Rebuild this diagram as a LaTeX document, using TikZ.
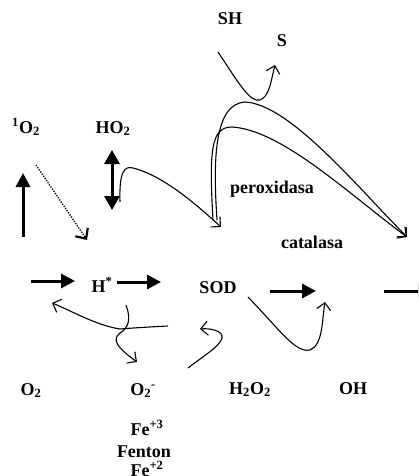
\documentclass[tikz,border=0pt]{standalone}
\usepackage{fontspec}
\setmainfont{Liberation Serif}
\usetikzlibrary{arrows.meta}
\tikzset{
  lbl/.style={font=\bfseries\fontsize{18}{21}\selectfont,inner sep=0pt,anchor=base},
  bigflow/.style={-{Triangle[length=14pt,width=14pt]},line width=3pt},
  twoway/.style={{Triangle[length=14pt,width=15pt]}-{Triangle[length=14pt,width=15pt]},line width=3pt},
  thinflow/.style={-{Straight Barb[length=7pt,width=14pt]},line width=1.1pt},
  dotflow/.style={dash pattern=on 1.3pt off 1.3pt,line width=1.3pt,-{Straight Barb[length=8pt,width=15pt,line width=2.2pt]}},
}

\begin{document}
\begin{tikzpicture}[x=1pt,y=-1pt]
  \useasboundingbox (0,0) rectangle (418,476);
  \clip (0,0) rectangle (418,476);

  % species
  \node[lbl] (sh) at (230,25) {SH};
  \node[lbl] (s) at (282,47) {S};
  \node[lbl] (singlet) at (26,133) {\textsuperscript{1}O\textsubscript{2}};
  \node[lbl] (ho2) at (113,133) {HO\textsubscript{2}};
  \node[lbl] (perox) at (272,193) {peroxidasa};
  \node[lbl] (catal) at (312,248) {catalasa};
  \node[lbl] (hstar) at (102,292) {H\textsuperscript{*}};
  \node[lbl] (sod) at (218,293) {SOD};
  \node[lbl] (o2) at (31,395) {O\textsubscript{2}};
  \node[lbl] (o2m) at (143,395) {O\textsubscript{2}\textsuperscript{-}};
  \node[lbl] (h2o2) at (250,394) {H\textsubscript{2}O\textsubscript{2}};
  \node[lbl] (oh) at (353,394) {OH};
  \node[lbl] (fe3) at (147,435) {Fe\textsuperscript{+3}};
  \node[lbl] (fenton) at (144,457) {Fenton};
  \node[lbl] (fe2) at (147,476) {Fe\textsuperscript{+2}};

  % ends of the strokes
  \coordinate (up0) at (23,237);
  \coordinate (up1) at (23,173);
  \coordinate (dot0) at (36,165);
  \coordinate (dot1) at (87,240);
  \coordinate (dbl0) at (112,150);
  \coordinate (dbl1) at (112,210);
  \coordinate (r1a) at (31,281);
  \coordinate (r1b) at (75,281);
  \coordinate (r2a) at (117,282);
  \coordinate (r2b) at (161,282);
  \coordinate (r3a) at (270,291);
  \coordinate (r3b) at (316,291);
  \coordinate (r4a) at (384,291);
  \coordinate (r4b) at (432,291);

  \coordinate (ho2in) at (120,202);
  \coordinate (sodtop) at (221,227);
  \coordinate (peroxA) at (217,220);
  \coordinate (peroxB) at (213,220);
  \coordinate (catin) at (407,237);
  \coordinate (shout) at (218,52);
  \coordinate (sin) at (275,65);

  \coordinate (bA0) at (168,326);
  \coordinate (bA1) at (52,303);
  \coordinate (bB0) at (126,305);
  \coordinate (bB1) at (137,362);
  \coordinate (cC0) at (188,368);
  \coordinate (cC1) at (200,329);
  \coordinate (sodout) at (248,297);
  \coordinate (ohin) at (325,302);

  % thick arrows
  \draw[bigflow] (up0) -- (up1);
  \draw[twoway] (dbl0) -- (dbl1);
  \draw[bigflow] (r1a) -- (r1b);
  \draw[bigflow] (r2a) -- (r2b);
  \draw[bigflow] (r3a) -- (r3b);
  \draw[bigflow] (r4a) -- (r4b);
  \draw[dotflow] (dot0) -- (dot1);

  % curved arrows
  \draw[thinflow] (ho2in) .. controls (119,170) and (125,166) .. (133,168)
    .. controls (165,176) and (200,208) .. (sodtop);
  \draw[thinflow] (peroxA) .. controls (213,160) and (214,104) .. (245,102)
    .. controls (290,104) and (360,190) .. (catin);
  \draw[thinflow] (peroxB) .. controls (209,150) and (211,127) .. (232,127)
    .. controls (282,130) and (350,195) .. (catin);
  \draw[thinflow] (shout) .. controls (238,82) and (250,103) .. (260,100)
    .. controls (270,96) and (271,80) .. (sin);

  \draw[thinflow] (bA0) .. controls (148,327) and (132,328) .. (120,329)
    .. controls (95,325) and (70,310) .. (bA1);
  \draw[thinflow] (bB0) .. controls (131,318) and (129,328) .. (120,333)
    .. controls (111,340) and (118,348) .. (bB1);
  \draw[thinflow] (cC0) .. controls (205,355) and (220,346) .. (222,338)
    .. controls (224,331) and (210,328) .. (cC1);
  \draw[thinflow] (sodout) .. controls (280,330) and (295,353) .. (310,350)
    .. controls (323,345) and (322,320) .. (ohin);
\end{tikzpicture}
\end{document}
